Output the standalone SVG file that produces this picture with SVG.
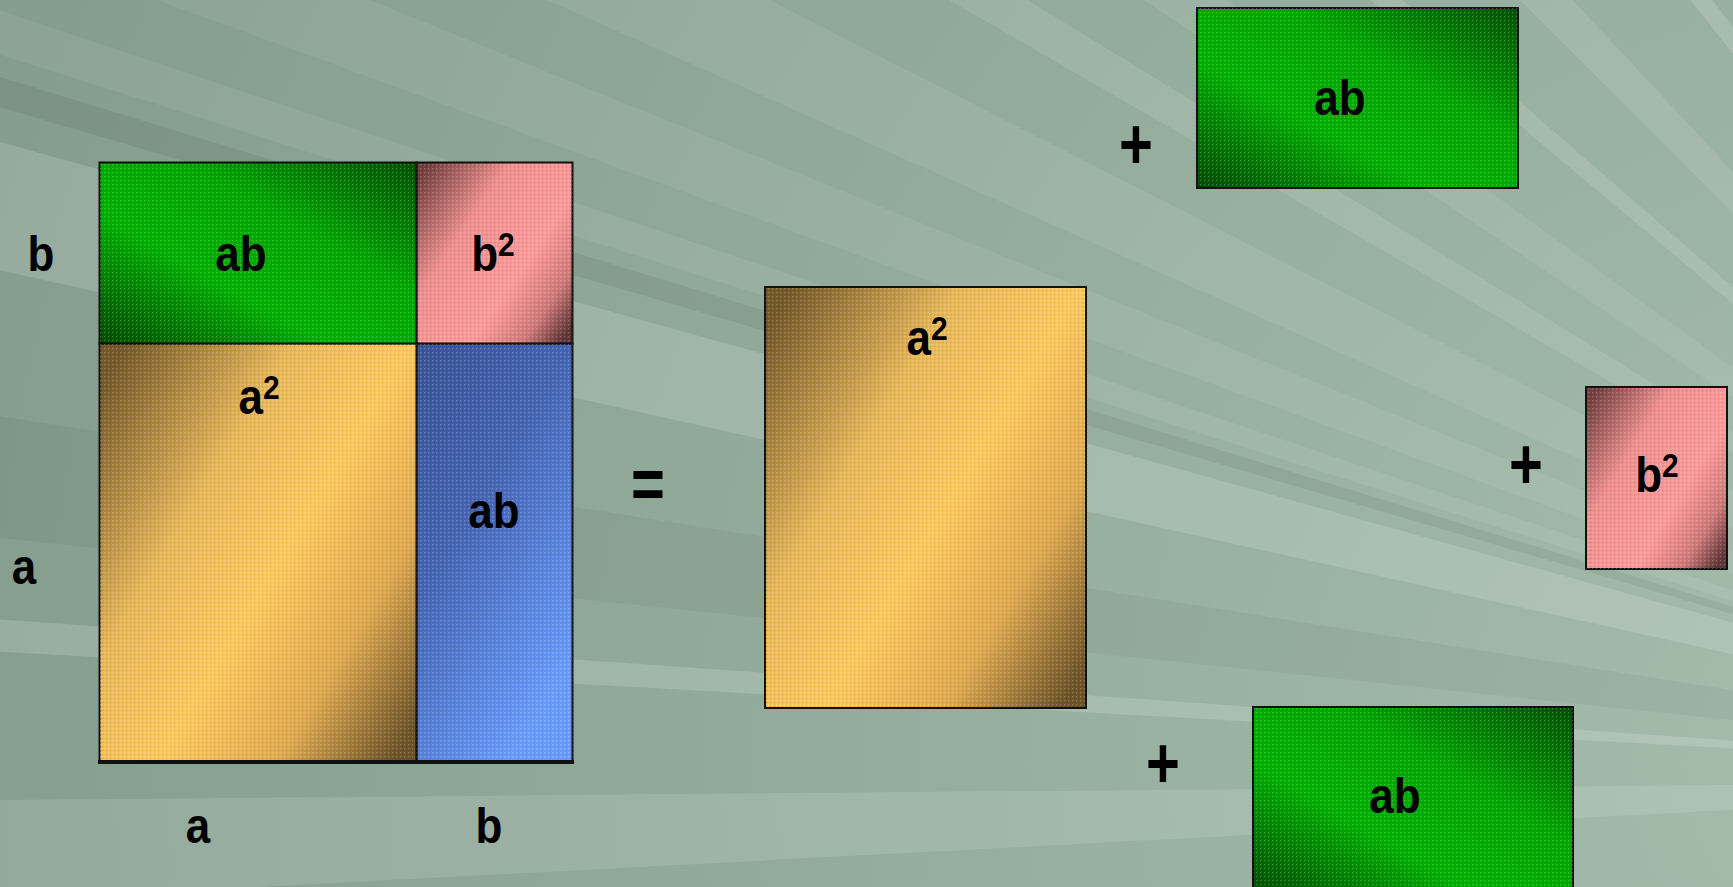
<svg xmlns="http://www.w3.org/2000/svg" width="1733" height="887" viewBox="0 0 1733 887">
<defs>
<radialGradient id="bgGrad" gradientUnits="userSpaceOnUse" cx="1900" cy="760" r="2000">
<stop offset="0" stop-color="#a6bdac"/>
<stop offset="0.5" stop-color="#95ad9d"/>
<stop offset="1" stop-color="#849d8d"/>
</radialGradient>
<linearGradient id="greenGrad" x1="1" y1="0" x2="0" y2="1">
<stop offset="0" stop-color="#005200"/>
<stop offset="0.36" stop-color="#00a800"/>
<stop offset="0.64" stop-color="#00b200"/>
<stop offset="1" stop-color="#004a00"/>
</linearGradient>
<linearGradient id="yellowGrad" x1="0" y1="0.1" x2="1" y2="0.9">
<stop offset="0" stop-color="#75592a"/>
<stop offset="0.32" stop-color="#e8b85a"/>
<stop offset="0.55" stop-color="#ffc95e"/>
<stop offset="0.78" stop-color="#e0aa50"/>
<stop offset="1" stop-color="#6e5428"/>
</linearGradient>
<linearGradient id="pinkGrad" x1="0" y1="0.1" x2="1" y2="0.9">
<stop offset="0" stop-color="#74403f"/>
<stop offset="0.32" stop-color="#f09090"/>
<stop offset="0.65" stop-color="#ff9a9a"/>
<stop offset="0.85" stop-color="#d07a7a"/>
<stop offset="1" stop-color="#5e3636"/>
</linearGradient>
<linearGradient id="blueGrad" x1="0" y1="0" x2="0.6" y2="1">
<stop offset="0" stop-color="#3a5496"/>
<stop offset="0.45" stop-color="#4666b4"/>
<stop offset="1" stop-color="#6a9cff"/>
</linearGradient>
<pattern id="dots" width="4" height="4" patternUnits="userSpaceOnUse">
<rect x="0" y="0" width="1.3" height="1.3" fill="#ffffff" fill-opacity="0.22"/>
<rect x="2" y="2" width="1.3" height="1.3" fill="#000000" fill-opacity="0.12"/>
</pattern>
<style>
.box{stroke:#111;stroke-width:2}
.tex{fill:url(#dots)}
.lbl{font-family:"Liberation Sans",Arial,sans-serif;font-weight:bold;font-size:44px;fill:#000;text-anchor:middle}
.op{font-family:"Liberation Sans",Arial,sans-serif;font-weight:bold;font-size:58px;fill:#000;text-anchor:middle}
.sup{font-size:30px}
.lt{fill:#ffffff}
.dk{fill:#000000}
</style>
</defs>

<g id="background">
<rect x="0" y="0" width="1733" height="887" fill="url(#bgGrad)"/>
<polygon class="lt" fill-opacity="0.12" points="2300,780 -696,937 -700,806"/>
<polygon class="lt" fill-opacity="0.16" points="2300,780 -695,613 -693,571"/>
<polygon class="dk" fill-opacity="0.04" points="2300,780 -684,466 -663,311"/>
<polygon class="lt" fill-opacity="0.15" points="2300,780 -629,131 -591,-22"/>
<polygon class="dk" fill-opacity="0.06" points="2300,780 -579,-62 -569,-97"/>
<polygon class="lt" fill-opacity="0.08" points="2300,780 -561,-122 -545,-172"/>
<polygon class="lt" fill-opacity="0.07" points="2300,780 -519,-246 -482,-344"/>
<polygon class="lt" fill-opacity="0.08" points="2300,780 -441,-440 -373,-582"/>
<polygon class="lt" fill-opacity="0.1" points="2300,780 -298,-720 -258,-788"/>
<polygon class="lt" fill-opacity="0.08" points="2300,780 -187,-898 -127,-983"/>
<polygon class="lt" fill-opacity="0.12" points="2300,780 2,-1148 36,-1188"/>
<polygon class="lt" fill-opacity="0.1" points="2300,780 179,-1341 254,-1414"/>
<polygon class="lt" fill-opacity="0.15" points="2300,780 453,-1584 495,-1616"/>
</g>

<g id="big-ab-top">
<rect class="box" x="99.5" y="162.5" width="317.2" height="181.2" fill="url(#greenGrad)"/>
<rect class="tex" x="99.5" y="162.5" width="317.2" height="181.2"/>
<text class="lbl" transform="translate(241,271) scale(1,1.12)">ab</text>
</g>
<g id="big-b2">
<rect class="box" x="416.7" y="162.5" width="155.8" height="181.2" fill="url(#pinkGrad)"/>
<rect class="tex" x="416.7" y="162.5" width="155.8" height="181.2"/>
<text class="lbl" transform="translate(493,271) scale(1,1.12)">b<tspan class="sup" dy="-13">2</tspan></text>
</g>
<g id="big-a2">
<rect class="box" x="99.5" y="343.7" width="317.2" height="418.9" fill="url(#yellowGrad)"/>
<rect class="tex" x="99.5" y="343.7" width="317.2" height="418.9"/>
<text class="lbl" transform="translate(259,414) scale(1,1.12)">a<tspan class="sup" dy="-13">2</tspan></text>
</g>
<g id="big-ab-right">
<rect class="box" x="416.7" y="343.7" width="155.8" height="418.9" fill="url(#blueGrad)"/>
<rect class="tex" x="416.7" y="343.7" width="155.8" height="418.9"/>
<text class="lbl" transform="translate(494,528) scale(1,1.12)">ab</text>
</g>
<line x1="98" y1="762" x2="574" y2="762" stroke="#111" stroke-width="4"/>

<g id="side-labels">
<text class="lbl" transform="translate(41,271) scale(1,1.12)">b</text>
<text class="lbl" transform="translate(24,584) scale(1,1.12)">a</text>
<text class="lbl" transform="translate(198,843) scale(1,1.12)">a</text>
<text class="lbl" transform="translate(489,843) scale(1,1.12)">b</text>
</g>

<g id="equals">
<text class="op" transform="translate(648,508) scale(1,1.25)">=</text>
</g>

<g id="mid-a2">
<rect class="box" x="765" y="287" width="321" height="421" fill="url(#yellowGrad)"/>
<rect class="tex" x="765" y="287" width="321" height="421"/>
<text class="lbl" transform="translate(927,355) scale(1,1.12)">a<tspan class="sup" dy="-13">2</tspan></text>
</g>

<g id="plus-top">
<text class="op" transform="translate(1136,169) scale(1,1.25)">+</text>
</g>
<g id="top-ab">
<rect class="box" x="1197" y="8" width="321" height="180" fill="url(#greenGrad)"/>
<rect class="tex" x="1197" y="8" width="321" height="180"/>
<text class="lbl" transform="translate(1340,115) scale(1,1.12)">ab</text>
</g>

<g id="plus-mid">
<text class="op" transform="translate(1526,489) scale(1,1.25)">+</text>
</g>
<g id="right-b2">
<rect class="box" x="1586" y="387" width="141" height="182" fill="url(#pinkGrad)"/>
<rect class="tex" x="1586" y="387" width="141" height="182"/>
<text class="lbl" transform="translate(1657,492) scale(1,1.12)">b<tspan class="sup" dy="-13">2</tspan></text>
</g>

<g id="plus-bottom">
<text class="op" transform="translate(1163,788) scale(1,1.25)">+</text>
</g>
<g id="bottom-ab">
<rect class="box" x="1253" y="707" width="320" height="190" fill="url(#greenGrad)"/>
<rect class="tex" x="1253" y="707" width="320" height="190"/>
<text class="lbl" transform="translate(1395,813) scale(1,1.12)">ab</text>
</g>
</svg>
